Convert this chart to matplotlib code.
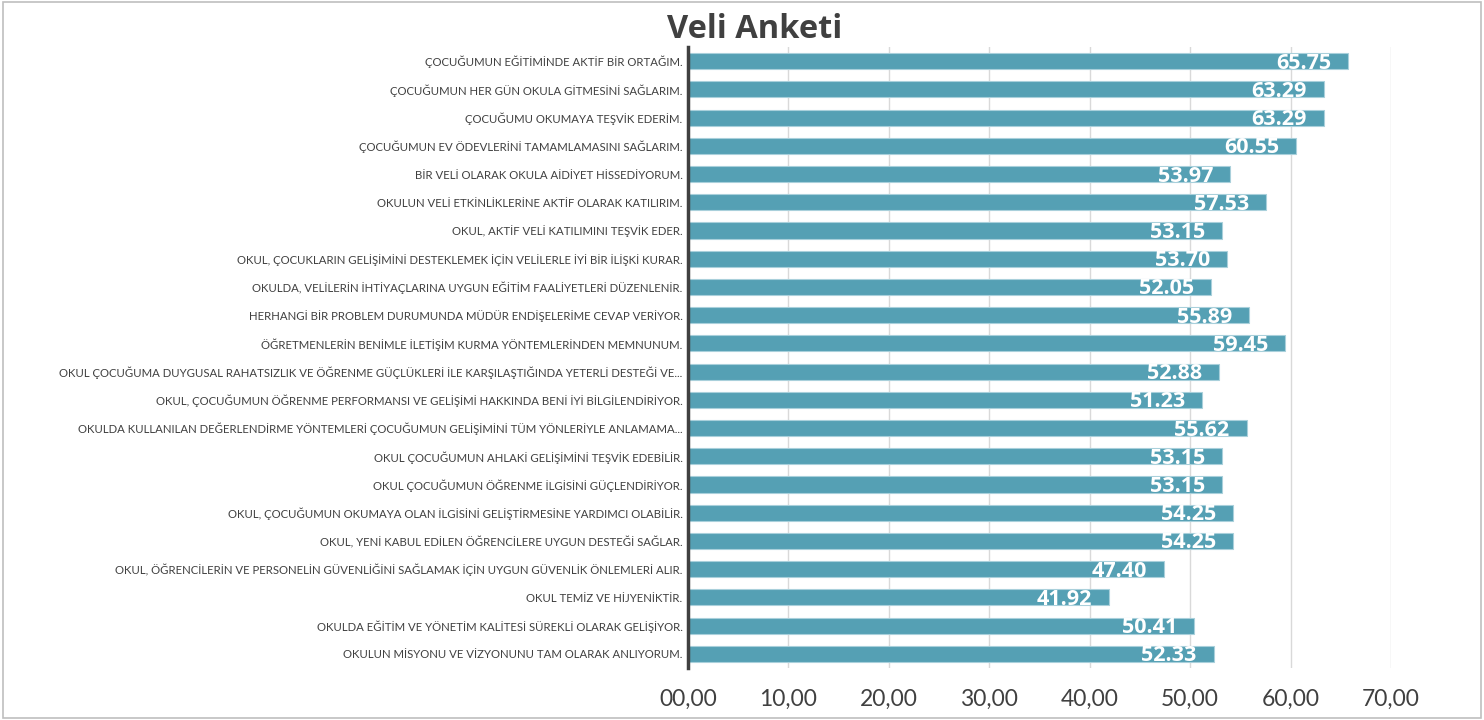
import matplotlib
matplotlib.use("Agg")
import matplotlib.pyplot as plt
from matplotlib.ticker import FuncFormatter

categories = [
    "ÇOCUĞUMUN EĞİTİMİNDE AKTİF BİR ORTAĞIM.",
    "ÇOCUĞUMUN HER GÜN OKULA GİTMESİNİ SAĞLARIM.",
    "ÇOCUĞUMU OKUMAYA TEŞVİK EDERİM.",
    "ÇOCUĞUMUN EV ÖDEVLERİNİ TAMAMLAMASINI SAĞLARIM.",
    "BİR VELİ OLARAK OKULA AİDİYET HİSSEDİYORUM.",
    "OKULUN VELİ ETKİNLİKLERİNE AKTİF OLARAK KATILIRIM.",
    "OKUL, AKTİF VELİ KATILIMINI TEŞVİK EDER.",
    "OKUL, ÇOCUKLARIN GELİŞİMİNİ DESTEKLEMEK İÇİN VELİLERLE İYİ BİR İLİŞKİ KURAR.",
    "OKULDA, VELİLERİN İHTİYAÇLARINA UYGUN EĞİTİM FAALİYETLERİ DÜZENLENİR.",
    "HERHANGİ BİR PROBLEM DURUMUNDA MÜDÜR ENDİŞELERİME CEVAP VERİYOR.",
    "ÖĞRETMENLERİN BENİMLE İLETİŞİM KURMA YÖNTEMLERİNDEN MEMNUNUM.",
    "OKUL ÇOCUĞUMA DUYGUSAL RAHATSIZLIK VE ÖĞRENME GÜÇLÜKLERİ İLE KARŞILAŞTIĞINDA YETERLİ DESTEĞİ VE...",
    "OKUL, ÇOCUĞUMUN ÖĞRENME PERFORMANSI VE GELİŞİMİ HAKKINDA BENİ İYİ BİLGİLENDİRİYOR.",
    "OKULDA KULLANILAN DEĞERLENDİRME YÖNTEMLERİ ÇOCUĞUMUN GELİŞİMİNİ TÜM YÖNLERİYLE ANLAMAMA...",
    "OKUL ÇOCUĞUMUN AHLAKİ GELİŞİMİNİ TEŞVİK EDEBİLİR.",
    "OKUL ÇOCUĞUMUN ÖĞRENME İLGİSİNİ GÜÇLENDİRİYOR.",
    "OKUL, ÇOCUĞUMUN OKUMAYA OLAN İLGİSİNİ GELİŞTİRMESİNE YARDIMCI OLABİLİR.",
    "OKUL, YENİ KABUL EDİLEN ÖĞRENCİLERE UYGUN DESTEĞİ SAĞLAR.",
    "OKUL, ÖĞRENCİLERİN VE PERSONELİN GÜVENLİĞİNİ SAĞLAMAK İÇİN UYGUN GÜVENLİK ÖNLEMLERİ ALIR.",
    "OKUL TEMİZ VE HİJYENİKTİR.",
    "OKULDA EĞİTİM VE YÖNETİM KALİTESİ SÜREKLİ OLARAK GELİŞİYOR.",
    "OKULUN MİSYONU VE VİZYONUNU TAM OLARAK ANLIYORUM.",
]
values = [65.75, 63.29, 63.29, 60.55, 53.97, 57.53, 53.15, 53.70, 52.05, 55.89,
          59.45, 52.88, 51.23, 55.62, 53.15, 53.15, 54.25, 54.25, 47.40, 41.92,
          50.41, 52.33]
x_ticks = [0, 10, 20, 30, 40, 50, 60, 70]
title = "Veli Anketi"

narrow = ["Lato", "DejaVu Sans"]
bold_font = ["Open Sans", "DejaVu Sans"]

fig = plt.figure(figsize=(14.84, 7.2), dpi=100)
fig.patch.set_facecolor("white")
ax = fig.add_axes([688 / 1484, 1 - 668 / 720, (1391 - 688) / 1484, (668 - 47) / 720])

n = len(values)
ypos = list(range(n))
bar_color = "#55A0B4"
ax.barh(ypos, values, height=0.57, color=bar_color, edgecolor="#A9D0DB",
        linewidth=0.8, zorder=3)
ax.set_ylim(n - 0.5, -0.5)
ax.set_xlim(0, 70)
ax.set_xticks(x_ticks)
ax.xaxis.set_major_formatter(FuncFormatter(lambda v, p: f"{int(v):02d},00"))
ax.set_yticks(ypos)
ax.set_yticklabels(categories, family=narrow, fontsize=8.2, color="#404040")
for lab in ax.get_xticklabels():
    lab.set_family(narrow)
    lab.set_fontsize(16.5)
    lab.set_color("#404040")
ax.tick_params(axis="x", length=0, pad=15)
ax.tick_params(axis="y", length=0, pad=4)
ax.grid(axis="x", color="#D9D9D9", linewidth=1, zorder=0)
for s in ["top", "right", "bottom"]:
    ax.spines[s].set_visible(False)
ax.spines["left"].set_color("#404040")
ax.spines["left"].set_linewidth(2.5)
ax.spines["left"].set_zorder(5)

for y, v in zip(ypos, values):
    ax.annotate(f"{v:.2f}", xy=(v, y), xytext=(-17, -2), textcoords="offset pixels",
                ha="right", va="center", color="white", fontsize=15.5,
                fontweight="bold", family=bold_font, zorder=4)

fig.text(755 / 1484, 1 - 29 / 720, title, ha="center", va="center",
         fontsize=23.5, fontweight="bold", family=bold_font, color="#404040")

# figure border
fig.add_artist(plt.Rectangle((0.002, 0.003), 0.996, 0.994, transform=fig.transFigure,
                             fill=False, edgecolor="#BFBFBF", linewidth=1.2))

fig.savefig("out.png", dpi=100, facecolor="white")
